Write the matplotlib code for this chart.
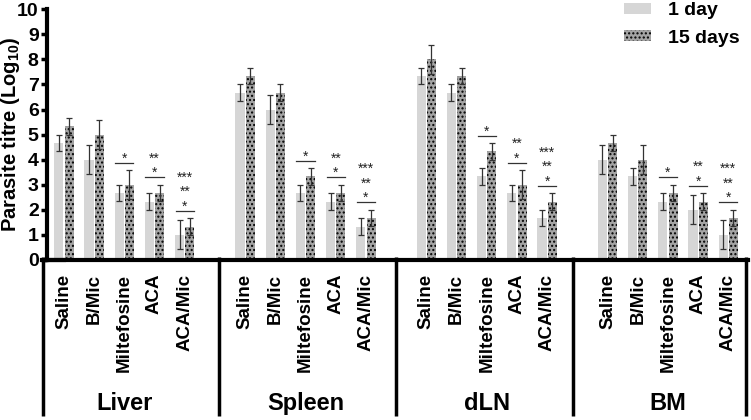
import numpy as np
import matplotlib
matplotlib.use("Agg")
import matplotlib.pyplot as plt
from matplotlib.patches import Patch

plt.rcParams['font.family'] = ['Liberation Sans', 'DejaVu Sans']
plt.rcParams['font.weight'] = 'bold'
plt.rcParams['mathtext.fontset'] = 'custom'
plt.rcParams['mathtext.bf'] = 'Liberation Sans:bold'
plt.rcParams['mathtext.rm'] = 'Liberation Sans:bold'
plt.rcParams['mathtext.default'] = 'bf'
plt.rcParams['hatch.linewidth'] = 1.0

# data
tissues = ['Liver', 'Spleen', 'dLN', 'BM']
treatments = ['Saline', 'B/Mic', 'Miltefosine', 'ACA', 'ACA/Mic']
sig_marks = ['', '', '*', '*|**', '*|**|***']

day1 = {
    'Liver':  [4.67, 4.0, 2.67, 2.33, 1.0],
    'Spleen': [6.67, 6.0, 2.67, 2.33, 1.33],
    'dLN':    [7.33, 6.67, 3.33, 2.67, 1.67],
    'BM':     [4.0, 3.33, 2.33, 2.0, 1.0],
}
day1_err = {
    'Liver':  [0.33, 0.58, 0.33, 0.33, 0.58],
    'Spleen': [0.33, 0.58, 0.33, 0.33, 0.33],
    'dLN':    [0.33, 0.33, 0.33, 0.33, 0.33],
    'BM':     [0.58, 0.33, 0.33, 0.58, 0.58],
}
day15 = {
    'Liver':  [5.33, 5.0, 3.0, 2.67, 1.33],
    'Spleen': [7.33, 6.67, 3.33, 2.67, 1.67],
    'dLN':    [8.0, 7.33, 4.33, 3.0, 2.33],
    'BM':     [4.67, 4.0, 2.67, 2.33, 1.67],
}
day15_err = {
    'Liver':  [0.33, 0.58, 0.58, 0.33, 0.33],
    'Spleen': [0.33, 0.33, 0.33, 0.33, 0.33],
    'dLN':    [0.58, 0.33, 0.33, 0.58, 0.33],
    'BM':     [0.33, 0.58, 0.33, 0.33, 0.33],
}

c1 = '#d6d6d6'
c15 = '#a4a4a4'
w = 0.3
off = 0.17

fig = plt.figure(figsize=(7.51, 4.2), dpi=100)
ax = fig.add_axes([0.0626, 0.381, 0.9334, 0.597])

xt, xl = [], []
for g, t in enumerate(tissues):
    pos = np.arange(len(treatments)) + g * (len(treatments) + 1)
    m1, e1 = np.array(day1[t]), np.array(day1_err[t])
    m15, e15 = np.array(day15[t]), np.array(day15_err[t])
    ax.bar(pos - off, m1, w, color=c1, lw=0)
    ax.bar(pos + off, m15, w, color=c15, edgecolor='black', lw=0, hatch='....')
    ax.errorbar(pos - off, m1, yerr=e1, fmt='none', ecolor='#333333',
                elinewidth=0.9, capsize=2.5, capthick=0.9)
    ax.errorbar(pos + off, m15, yerr=e15, fmt='none', ecolor='#333333',
                elinewidth=0.9, capsize=2.5, capthick=0.9)
    for i, s in enumerate(sig_marks):
        if not s:
            continue
        top = max(m1[i] + e1[i], m15[i] + e15[i]) + 0.3
        ax.plot([pos[i] - 0.3, pos[i] + 0.3], [top, top], color='#333333', lw=0.9)
        for k, st in enumerate(s.split('|')):
            ax.annotate(st, (pos[i], top), xytext=(0, 3 + 10.5 * k),
                        textcoords='offset points', ha='center', va='center',
                        fontsize=10, fontweight='normal', color='#222222')
    xt += list(pos)
    xl += treatments
    ax.text(pos.mean(), -0.574, t, transform=ax.get_xaxis_transform(),
            ha='center', va='center', fontsize=17, fontweight='bold')

ax.set_xlim(-0.56, 22.65)
ax.set_ylim(0, 10)
ax.set_yticks(range(0, 11))
ax.set_xticks(xt)
ax.set_xticklabels(xl, rotation=90, fontsize=13.5, fontweight='bold', va='top')
ax.tick_params(axis='x', length=0, pad=10)
ax.tick_params(axis='y', length=4, width=2.5, labelsize=14, pad=2)
for lab in ax.get_yticklabels():
    lab.set_fontweight('bold')
ax.set_ylabel('Parasite titre (Log$_{10}$)', fontsize=14.5, fontweight='bold')
ax.yaxis.set_label_coords(-0.036, 0.5)

for sp in ['top', 'right']:
    ax.spines[sp].set_visible(False)
ax.spines['left'].set_linewidth(3)
ax.spines['bottom'].set_linewidth(3)

# group separators below the axis
xtr = ax.get_xaxis_transform()
for sx in [-0.68, 5.13, 11.0, 16.85, 22.6]:
    ax.plot([sx, sx], [0.012, -0.622], transform=xtr, color='black', lw=2.5,
            clip_on=False, solid_capstyle='butt')
ax.plot([-0.72, 0], [0, 0], transform=xtr, color='black', lw=3, clip_on=False)

handles = [Patch(facecolor=c1, lw=0, label='1 day'),
           Patch(facecolor=c15, edgecolor='black', lw=0, hatch='....', label='15 days')]
fig.legend(handles=handles, loc='upper left', bbox_to_anchor=(624 / 751, 1 - 2 / 420),
           frameon=False, prop={'weight': 'bold', 'size': 14},
           handlelength=1.4, handleheight=0.5, handletextpad=0.85, labelspacing=0.55,
           borderpad=0, borderaxespad=0)

fig.savefig('out.png', dpi=100)
